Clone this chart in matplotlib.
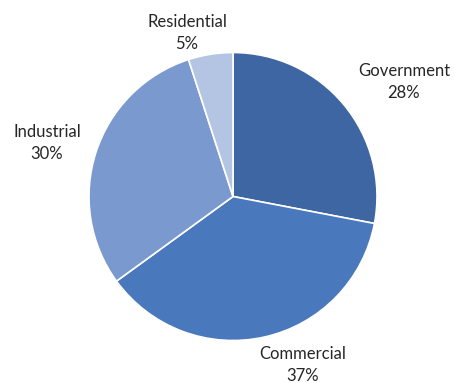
import matplotlib.pyplot as plt

# market share by sector
sectors = ["Government", "Commercial", "Industrial", "Residential"]
shares = [28, 37, 30, 5]
colors = ["#3D66A2", "#4A78BC", "#7A99CE", "#B4C5E4"]

# label anchor points (pixels, origin bottom-left)
label_pos = [(404, 301), (303, 18), (47, 240), (187, 350)]

fig = plt.figure(figsize=(4.56, 3.83), dpi=100)
ax = fig.add_axes([0, 0, 1, 1])

ax.pie(shares, colors=colors, startangle=90, counterclock=False,
       center=(233, 186.5), radius=144,
       wedgeprops=dict(edgecolor="white", linewidth=1.2), frame=True)

for name, pct, (x, y) in zip(sectors, shares, label_pos):
    ax.text(x, y, f"{name}\n{pct}%", ha="center", va="center",
            fontsize=12, family="Lato", color="#262626", linespacing=1.4)

ax.set_xlim(0, 456)
ax.set_ylim(0, 383)
ax.set_aspect("equal")
ax.axis("off")

fig.savefig("out.png", dpi=100, facecolor="white")
